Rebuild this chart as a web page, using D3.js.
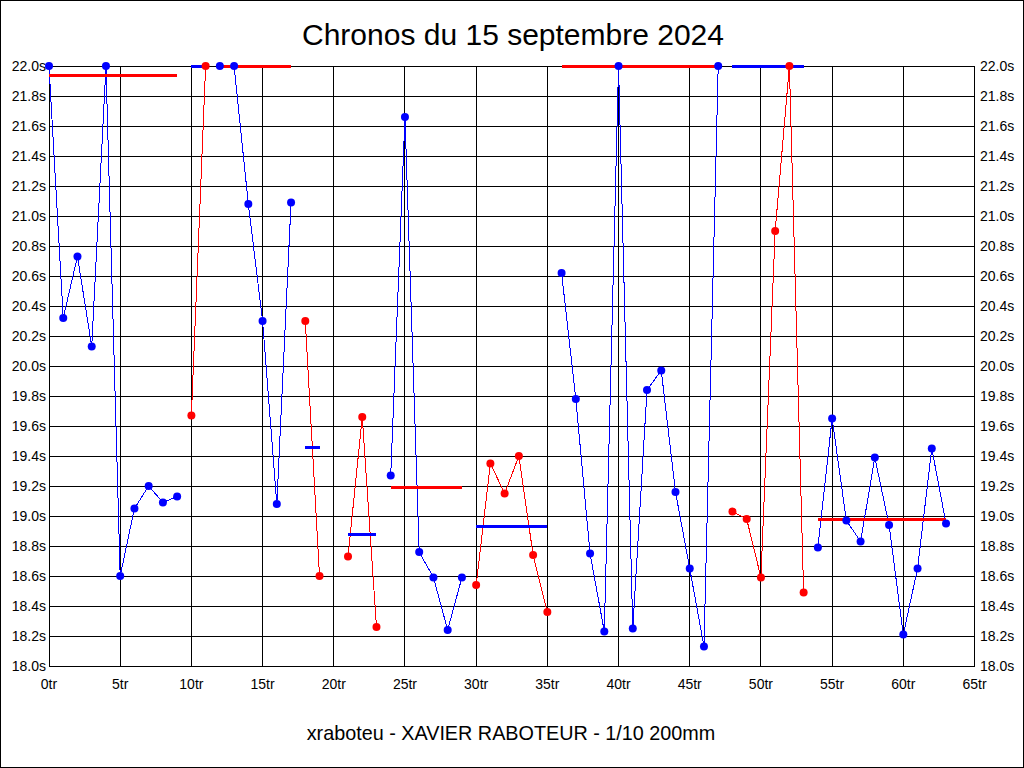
<!DOCTYPE html>
<html>
<head>
<meta charset="utf-8">
<script src="https://cdn.jsdelivr.net/npm/d3@7"></script>
<style>
  body { margin: 0; background: #fff; }
  text { font-family: "Liberation Sans", Arial, sans-serif; fill: #000; }
</style>
</head>
<body>
<script>
'use strict';

// lap times in seconds, index = lap number (values above 22.0s shown clamped)
const lapTimes = [
  22.0, 20.32, 20.73, 20.13, 22.0, 18.60, 19.05, 19.20, 19.09, 19.13,
  19.67, 22.0, 22.0, 22.0, 21.08, 20.30, 19.08, 21.09, 20.30, 18.60,
  null, 18.73, 19.66, 18.26, 19.27, 21.66, 18.76, 18.59, 18.24, 18.59,
  18.54, 19.35, 19.15, 19.40, 18.74, 18.36, 20.62, 19.78, 18.75, 18.23,
  22.0, 18.25, 19.84, 19.97, 19.16, 18.65, 18.13, 22.0, 19.03, 18.98,
  18.59, 20.90, 22.0, 18.49, 18.79, 19.65, 18.97, 18.83, 19.39, 18.94,
  18.21, 18.65, 19.45, 18.95
];

// stints (runs of consecutive laps)
const stintFirst = [0, 10, 12, 18, 21, 24, 30, 36, 48, 54];
const stintLast = [9, 11, 17, 19, 23, 29, 35, 47, 53, 63];
const stintColour = ["blue", "red", "blue", "red", "red", "blue", "red", "blue", "red", "blue"];
const stintAvgColour = ["red", "blue", "red", "blue", "blue", "red", "blue", "red", "blue", "red"];
const stintAvg = [21.94, 22.0, 22.0, 19.46, 18.88, 19.19, 18.93, 22.0, 22.0, 18.98];

const xTicks = d3.range(0, 66, 5);
const yTicks = d3.range(0, 21).map((i) => 18 + i * 0.2);

const title = "Chronos du 15 septembre 2024";
const subtitle = "xraboteu - XAVIER RABOTEUR - 1/10 200mm";

const m = { width: 1024, height: 768, left: 49, right: 974.5, top: 66, bottom: 666 };

const svg = d3.select("body")
  .append("svg")
  .attr("width", m.width)
  .attr("height", m.height);

// outer frame
svg.append("rect")
  .attr("x", 0.5).attr("y", 0.5)
  .attr("width", m.width - 1).attr("height", m.height - 1)
  .attr("fill", "#fff").attr("stroke", "#000")
  .attr("shape-rendering", "crispEdges");

const xScale = d3.scaleLinear().domain([0, 65]).range([m.left, m.right]);
const yScale = d3.scaleLinear().domain([18, 22]).range([m.bottom, m.top]);

// grid
const grid = svg.append("g")
  .attr("stroke", "#000")
  .attr("stroke-width", 1)
  .attr("shape-rendering", "crispEdges");

grid.selectAll(".hgrid")
  .data(yTicks)
  .enter()
  .append("line")
  .attr("x1", m.left).attr("x2", m.right)
  .attr("y1", (d) => yScale(d)).attr("y2", (d) => yScale(d));

grid.selectAll(".vgrid")
  .data(xTicks)
  .enter()
  .append("line")
  .attr("y1", m.top).attr("y2", m.bottom)
  .attr("x1", (d) => xScale(d)).attr("x2", (d) => xScale(d));

// plot frame
svg.append("rect")
  .attr("x", m.left).attr("y", m.top)
  .attr("width", m.right - m.left).attr("height", m.bottom - m.top)
  .attr("fill", "none").attr("stroke", "#000")
  .attr("shape-rendering", "crispEdges");

// axes labels, y on both sides
const fmtY = (d) => d.toFixed(1) + "s";

svg.append("g").selectAll("text")
  .data(yTicks)
  .enter()
  .append("text")
  .attr("x", 46)
  .attr("y", (d) => yScale(d) + 5)
  .attr("text-anchor", "end")
  .style("font-size", "14px")
  .text(fmtY);

svg.append("g").selectAll("text")
  .data(yTicks)
  .enter()
  .append("text")
  .attr("x", 980)
  .attr("y", (d) => yScale(d) + 5)
  .attr("text-anchor", "start")
  .style("font-size", "14px")
  .text(fmtY);

svg.append("g").selectAll("text")
  .data(xTicks)
  .enter()
  .append("text")
  .attr("x", (d) => xScale(d))
  .attr("y", 689)
  .attr("text-anchor", "middle")
  .style("font-size", "14px")
  .text((d) => d + "tr");

// lap lines per stint
const stints = stintFirst.map((f, i) => ({
  first: f,
  last: stintLast[i],
  colour: stintColour[i],
  avgColour: stintAvgColour[i],
  avg: stintAvg[i],
  points: d3.range(f, stintLast[i] + 1).map((lap) => ({ lap: lap, t: lapTimes[lap] }))
}));

const line = d3.line()
  .x((d) => xScale(d.lap))
  .y((d) => yScale(d.t));

svg.append("g").selectAll("path")
  .data(stints)
  .enter()
  .append("path")
  .attr("d", (d) => line(d.points))
  .attr("fill", "none")
  .attr("stroke", (d) => d.colour)
  .attr("stroke-width", 1)
  .attr("shape-rendering", "crispEdges");

// stint average lines
svg.append("g").selectAll("line")
  .data(stints)
  .enter()
  .append("line")
  .attr("x1", (d) => xScale(d.first))
  .attr("x2", (d) => xScale(d.last))
  .attr("y1", (d) => yScale(d.avg))
  .attr("y2", (d) => yScale(d.avg))
  .attr("stroke", (d) => d.avgColour)
  .attr("stroke-width", 3)
  .attr("shape-rendering", "crispEdges");

// lap dots
svg.append("g").selectAll("g")
  .data(stints)
  .enter()
  .append("g")
  .attr("fill", (d) => d.colour)
  .selectAll("circle")
  .data((d) => d.points)
  .enter()
  .append("circle")
  .attr("cx", (d) => xScale(d.lap))
  .attr("cy", (d) => yScale(d.t))
  .attr("r", 4);

// titles
svg.append("text")
  .attr("x", 513)
  .attr("y", 45)
  .attr("text-anchor", "middle")
  .style("font-size", "30px")
  .text(title);

svg.append("text")
  .attr("x", 511)
  .attr("y", 740)
  .attr("text-anchor", "middle")
  .style("font-size", "19.8px")
  .text(subtitle);
</script>
</body>
</html>
